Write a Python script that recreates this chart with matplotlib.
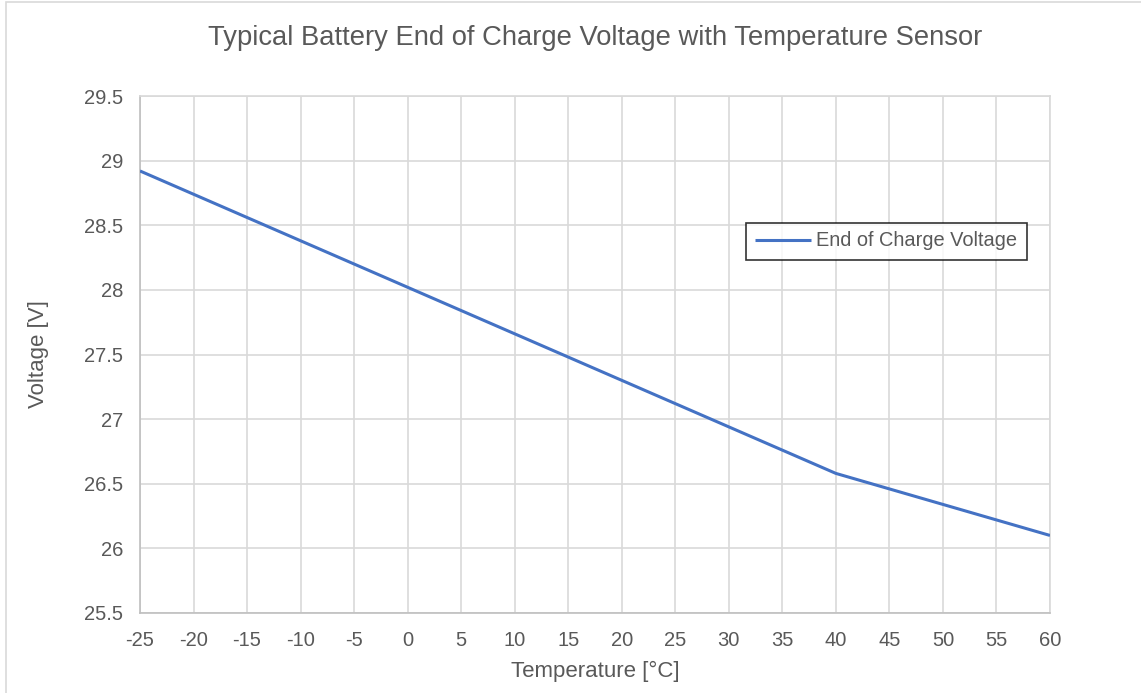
import matplotlib
matplotlib.use('Agg')
import matplotlib.pyplot as plt
from matplotlib.patches import Rectangle

plt.rcParams['font.family'] = ['Liberation Sans', 'DejaVu Sans']

temps = [-25, -20, -15, -10, -5, 0, 5, 10, 15, 20, 25, 30, 35, 40, 45, 50, 55, 60]
voltage = [28.92, 28.74, 28.56, 28.38, 28.20, 28.02, 27.84, 27.66, 27.48, 27.30,
           27.12, 26.94, 26.76, 26.58, 26.46, 26.34, 26.22, 26.10]
x_ticks = list(range(-25, 61, 5))
y_ticks = [25.5, 26, 26.5, 27, 27.5, 28, 28.5, 29, 29.5]

text_col = '#595959'
grid_col = '#d9d9d9'

fig = plt.figure(figsize=(11.41, 6.93), dpi=100)
W, H = 1141, 693
ax = fig.add_axes([140 / W, 1 - 613 / H, (1050 - 140) / W, (613 - 96) / H])

# chart border
fig.patches.append(Rectangle((6 / W, -0.01), 1.02, 1 - 2 / H + 0.01, transform=fig.transFigure,
                             fill=False, edgecolor='#d9d9d9', linewidth=1.2))

ax.plot(temps, voltage, color='#4472c4', linewidth=2.2, solid_joinstyle='round',
        solid_capstyle='butt', label='End of Charge Voltage', zorder=3)

ax.set_xlim(-25, 60)
ax.set_ylim(25.5, 29.5)
ax.set_xticks(x_ticks)
ax.set_xticklabels([str(t) for t in x_ticks])
ax.set_yticks(y_ticks)
ax.set_yticklabels([f'{v:g}' for v in y_ticks])
ax.grid(True, color=grid_col, linewidth=1.2)
ax.set_axisbelow(True)
for s in ax.spines.values():
    s.set_color(grid_col)
    s.set_linewidth(1.2)
ax.spines['left'].set_color('#bfbfbf')
ax.spines['bottom'].set_color('#bfbfbf')
ax.tick_params(length=0, labelsize=14.5, labelcolor=text_col)
ax.tick_params(axis='y', pad=12)
ax.tick_params(axis='x', pad=13)

ax.set_xlabel('Temperature [°C]', fontsize=16, color=text_col, labelpad=8)
ax.set_ylabel('Voltage [V]', fontsize=16, color=text_col, labelpad=25)
fig.text(595 / W, 1 - 38 / H, 'Typical Battery End of Charge Voltage with Temperature Sensor',
         ha='center', va='center', fontsize=19.7, color=text_col)

leg = ax.legend(loc='center', bbox_to_anchor=((886 - 140) / 910, (613 - 241) / 517),
                fontsize=14.4, frameon=True, fancybox=False, handlelength=2.8,
                borderpad=0.45, handletextpad=0.3, borderaxespad=0)
leg.get_frame().set_edgecolor('black')
leg.get_frame().set_linewidth(1.2)
for t in leg.get_texts():
    t.set_color(text_col)

fig.savefig('out.png', dpi=100)
